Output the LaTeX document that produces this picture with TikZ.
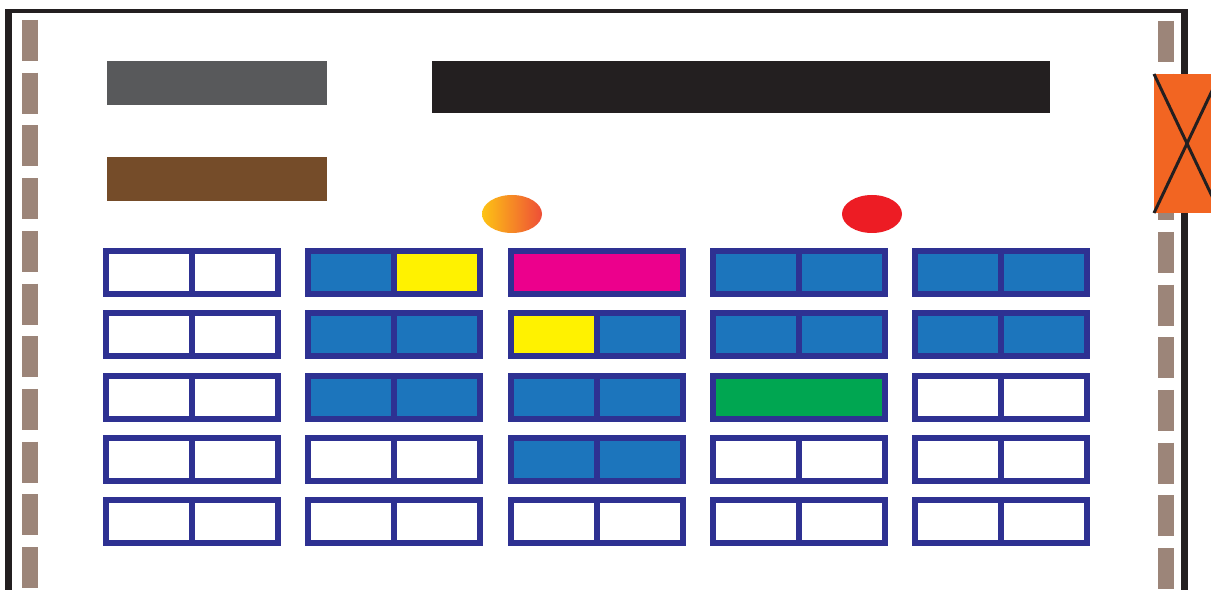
\documentclass[tikz,border=0pt]{standalone}
\usepackage{xcolor}
\usetikzlibrary{shapes.geometric}
\definecolor{FrameBlack}{HTML}{231F20}
\definecolor{PostTaupe} {HTML}{9C8579}
\definecolor{BarGray}   {HTML}{58595B}
\definecolor{BarBrown}  {HTML}{754C29}
\definecolor{GateOrange}{HTML}{F26522}
\definecolor{LampYellow}{HTML}{FDC314}
\definecolor{LampOrange}{HTML}{EE4E37}
\definecolor{LampRed}   {HTML}{ED1C24}
\definecolor{BayNavy}   {HTML}{2E3192}
\definecolor{BayBlue}   {HTML}{1C75BC}
\definecolor{BayYellow} {HTML}{FFF200}
\definecolor{BayMagenta}{HTML}{EC008C}
\definecolor{BayGreen}  {HTML}{00A651}
\tikzset{
  bar/.style={
    inner sep=0pt, outer sep=0pt,
  },
  halfbay/.style={
    draw=BayNavy, line width=1.2mm, inner sep=0pt,
    minimum width=17.2mm, minimum height=8.6mm,
  },
  fullbay/.style={halfbay, minimum width=34.4mm},
  posts/.style={
    PostTaupe, line width=3.2mm, dash pattern=on 8.2mm off 2.34mm,
  },
  lamp/.style={
    ellipse, inner sep=0pt, minimum width=12mm, minimum height=7.6mm,
  },
}

\begin{document}
\begin{tikzpicture}[x=0.2mm, y=-0.2mm]

% ── Canvas (1 unit = 1 px of the layout) ──────────────────────────────────
\clip (0,0) rectangle (1211,590);
\fill[white] (0,0) rectangle (1211,590);

% ── Frame and posts ───────────────────────────────────────────────────────
\draw[FrameBlack, line width=0.8mm] (5,11.5) -- (1187.5,11.5);
\draw[FrameBlack, line width=1.4mm] (8.5,600) -- (8.5,10);
\draw[FrameBlack, line width=1.4mm] (1184,600) -- (1184,10);
\draw[posts] (30,20) -- (30,600);
\draw[posts] (1166,21) -- (1166,600);

% ── Bars ──────────────────────────────────────────────────────────────────
\node[bar, fill=BarGray,    minimum width=44mm,    minimum height=8.8mm]  (title)  at (217,83)  {};
\node[bar, fill=FrameBlack, minimum width=123.6mm, minimum height=10.4mm] (banner) at (741,87)  {};
\node[bar, fill=BarBrown,   minimum width=44mm,    minimum height=8.8mm]  (sub)    at (217,179) {};

% ── Gate (cut by the page edge) ───────────────────────────────────────────
\node[bar, fill=GateOrange, minimum width=13.2mm, minimum height=27.8mm] (gate) at (1187,143.5) {};
\draw[FrameBlack, line width=0.6mm]
  (gate.north west) -- (gate.south east)
  (gate.south west) -- (gate.north east);

% ── Lamps ─────────────────────────────────────────────────────────────────
\node[lamp, left color=LampYellow, right color=LampOrange] (lampL) at (512,214) {};
\node[lamp, fill=LampRed] (lampR) at (872,214) {};

% ── Bays: column/row/left fill/right fill ─────────────────────────────────
\foreach \c/\r/\lf/\rf in {
  1/1/white/white, 2/1/BayBlue/BayYellow, 4/1/BayBlue/BayBlue, 5/1/BayBlue/BayBlue,
  1/2/white/white, 2/2/BayBlue/BayBlue, 3/2/BayYellow/BayBlue, 4/2/BayBlue/BayBlue, 5/2/BayBlue/BayBlue,
  1/3/white/white, 2/3/BayBlue/BayBlue, 3/3/BayBlue/BayBlue, 5/3/white/white,
  1/4/white/white, 2/4/white/white, 3/4/BayBlue/BayBlue, 4/4/white/white, 5/4/white/white,
  1/5/white/white, 2/5/white/white, 3/5/white/white, 4/5/white/white, 5/5/white/white}
{
  \node[halfbay, fill=\lf] (bay-\c-\r-l) at ({192+202.25*(\c-1)-43}, {272.5+62.3*(\r-1)}) {};
  \node[halfbay, fill=\rf] (bay-\c-\r-r) at ({192+202.25*(\c-1)+43}, {272.5+62.3*(\r-1)}) {};
}
% whole bays, no divider
\node[fullbay, fill=BayMagenta] (bay-3-1) at ({192+202.25*2}, 272.5) {};
\node[fullbay, fill=BayGreen]   (bay-4-3) at ({192+202.25*3}, {272.5+62.3*2}) {};

\end{tikzpicture}
\end{document}
